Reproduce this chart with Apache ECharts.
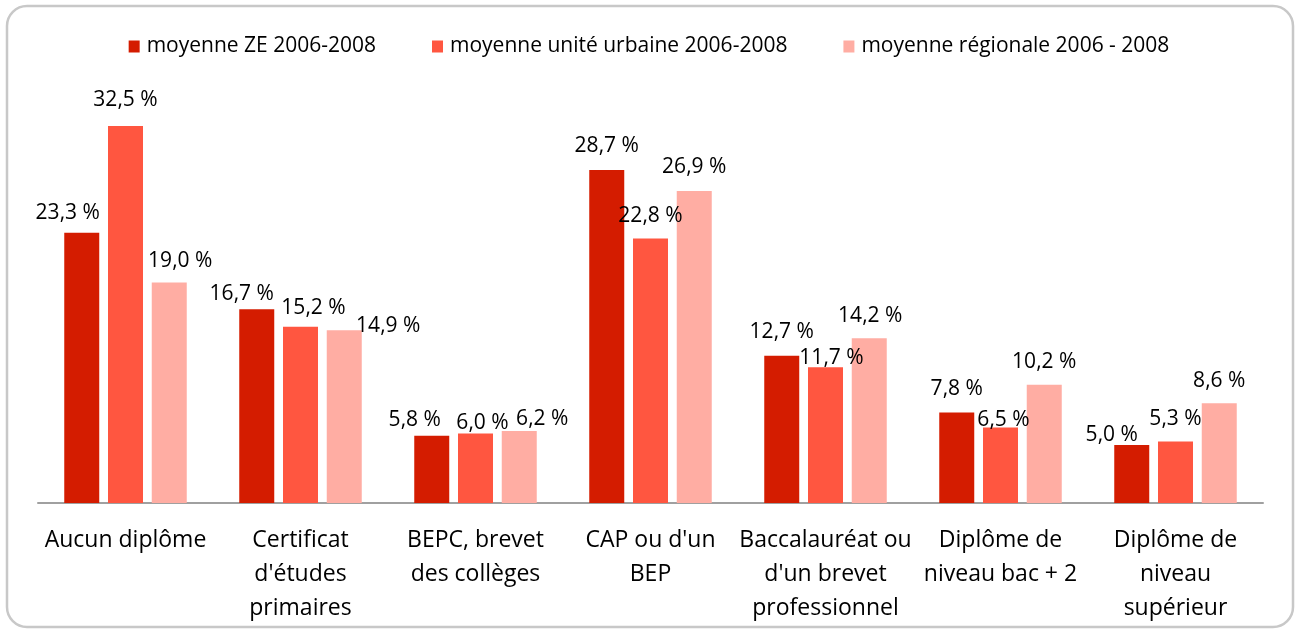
<!DOCTYPE html>
<html>
<head>
<meta charset="utf-8">
<script src="https://cdn.jsdelivr.net/npm/echarts@6/dist/echarts.min.js"></script>
<style>
html,body{margin:0;padding:0;background:#fff;}
#chart{width:1298px;height:630px;}
</style>
</head>
<body>
<div id="chart"></div>
<script>
const categories = [
  "Aucun diplôme",
  "Certificat\nd'études\nprimaires",
  "BEPC, brevet\ndes collèges",
  "CAP ou d'un\nBEP",
  "Baccalauréat ou\nd'un brevet\nprofessionnel",
  "Diplôme de\nniveau bac + 2",
  "Diplôme de\nniveau\nsupérieur"
];
const seriesNames = ["moyenne ZE 2006-2008", "moyenne unité urbaine 2006-2008", "moyenne régionale 2006 - 2008"];
const zeValues = [23.3, 16.7, 5.8, 28.7, 12.7, 7.8, 5.0];
const uuValues = [32.5, 15.2, 6.0, 22.8, 11.7, 6.5, 5.3];
const regValues = [19.0, 14.9, 6.2, 26.9, 14.2, 10.2, 8.6];

// label nudges (layout only), [dx, dy] per series per category
const labelNudges = [
  [[-14,4],[-15,8],[-17,8],[0,-1],[0,0],[0,0],[-20,14]],
  [[0,-2],[13,5],[7,13],[0,1],[6,14],[3,16],[0,1]],
  [[11,2],[44,19],[23,11],[0,0],[1,1],[0,1],[0,1]]
];
const colors = ["#D41C00", "#FF5640", "#FFADA3"];
const FONT = "Open Sans";

function buildSeries(idx, values) {
  return {
    name: seriesNames[idx],
    type: 'bar',
    barGap: '25%',
    barCategoryGap: '30%',
    itemStyle: { color: colors[idx] },
    data: values.map((v, i) => ({
      value: v,
      label: { offset: labelNudges[idx][i] }
    })),
    label: {
      show: true,
      position: 'top',
      distance: 13,
      color: '#000',
      fontFamily: FONT,
      fontSize: 21,
      formatter: p => p.value.toFixed(1).replace('.', ',') + ' %'
    }
  };
}

const chart = echarts.init(document.getElementById('chart'));
chart.setOption({
  animation: false,
  textStyle: { fontFamily: FONT },
  color: colors,
  graphic: [{
    type: 'rect',
    shape: { x: 7, y: 6, width: 1286, height: 621, r: 20 },
    style: { fill: 'none', stroke: '#c8c8c8', lineWidth: 2.5 },
    silent: true,
    z: -1
  }],
  legend: {
    top: 31,
    left: 'center',
    itemWidth: 11,
    itemHeight: 12,
    itemGap: 56,
    icon: 'rect',
    textStyle: { fontFamily: FONT, fontSize: 21, color: '#000', padding: [0, 0, 0, 2] },
    data: seriesNames
  },
  grid: { left: 38, right: 35, top: 97, bottom: 127 },
  xAxis: {
    type: 'category',
    data: categories,
    axisLine: { lineStyle: { color: '#a0a0a0', width: 2 } },
    axisTick: { show: false },
    axisLabel: {
      interval: 0,
      margin: 20,
      color: '#000',
      fontFamily: FONT,
      fontSize: 23,
      lineHeight: 34
    }
  },
  yAxis: {
    type: 'value',
    min: 0,
    max: 35,
    show: false,
    splitLine: { show: false }
  },
  series: [
    buildSeries(0, zeValues),
    buildSeries(1, uuValues),
    buildSeries(2, regValues)
  ]
});
</script>
</body>
</html>
